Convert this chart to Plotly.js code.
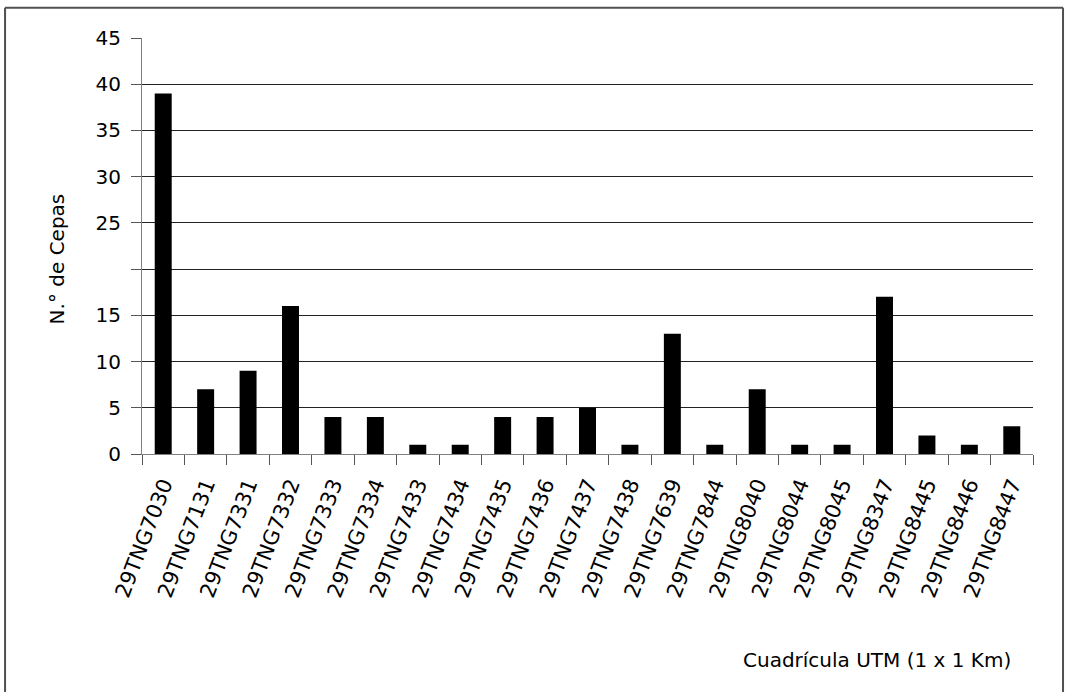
<!DOCTYPE html>
<html><head><meta charset="utf-8">
<script src="https://cdn.plot.ly/plotly-3.0.1.min.js"></script>
<style>body{margin:0;background:#fff}#chart{width:1065px;height:692px}</style>
</head><body><div id="chart"></div>
<script>
const categories = ["29TNG7030","29TNG7131","29TNG7331","29TNG7332","29TNG7333","29TNG7334","29TNG7433","29TNG7434","29TNG7435","29TNG7436","29TNG7437","29TNG7438","29TNG7639","29TNG7844","29TNG8040","29TNG8044","29TNG8045","29TNG8347","29TNG8445","29TNG8446","29TNG8447"];
const values = [39,7,9,16,4,4,1,1,4,4,5,1,13,1,7,1,1,17,2,1,3];
const yTickVals = [0,5,10,15,20,25,30,35,40,45];
const yTickText = ["0","5","10","15","","25","30","35","40","45"];
const fontFam = "'DejaVu Sans', sans-serif";
const data = [{type:"bar", x:categories, y:values, marker:{color:"#000"}, hoverinfo:"x+y"}];
const frameColor = "#505050";
const layout = {
  width:1065, height:692,
  margin:{l:142, r:32, t:38, b:238},
  paper_bgcolor:"#fff", plot_bgcolor:"#fff",
  bargap:0.6,
  showlegend:false,
  font:{family:fontFam, color:"#000"},
  xaxis:{
    type:"category", tickangle:-69, tickfont:{size:21, family:fontFam},
    showgrid:false, showline:true, linecolor:"#808080", linewidth:1,
    ticks:"outside", ticklen:10, tickcolor:"#555", tickson:"boundaries",
    ticklabelstandoff:9,
    zeroline:false
  },
  yaxis:{
    range:[0,45], tickvals:yTickVals, ticktext:yTickText,
    tickfont:{size:20, family:fontFam},
    showgrid:true, gridcolor:"#222", gridwidth:1,
    showline:true, linecolor:"#808080", linewidth:1,
    ticks:"outside", ticklen:10, tickcolor:"#555",
    ticklabelstandoff:6,
    zeroline:true, zerolinecolor:"#000", zerolinewidth:1
  },
  annotations:[{
    text:"N.° de Cepas", xref:"paper", yref:"paper",
    x:-0.0953, y:0.468, xanchor:"center", yanchor:"middle", textangle:-90, showarrow:false,
    font:{size:20, family:fontFam}
  },{
    text:"Cuadrícula UTM (1 x 1 Km)", xref:"paper", yref:"paper",
    x:0.977, y:-0.495, xanchor:"right", yanchor:"middle", showarrow:false,
    font:{size:20, family:fontFam}
  }],
  shapes:[
    {type:"line", xref:"paper", yref:"paper", x0:-0.1537, x1:-0.1537, y0:-0.7, y1:1.073, line:{color:frameColor, width:2}},
    {type:"line", xref:"paper", yref:"paper", x0:-0.1537, x1:1.0337, y0:1.073, y1:1.073, line:{color:frameColor, width:2}},
    {type:"line", xref:"paper", yref:"paper", x0:1.0337, x1:1.0337, y0:-0.7, y1:1.073, line:{color:frameColor, width:2}}
  ]
};
Plotly.newPlot("chart", data, layout, {displayModeBar:false, staticPlot:true});
</script></body></html>
